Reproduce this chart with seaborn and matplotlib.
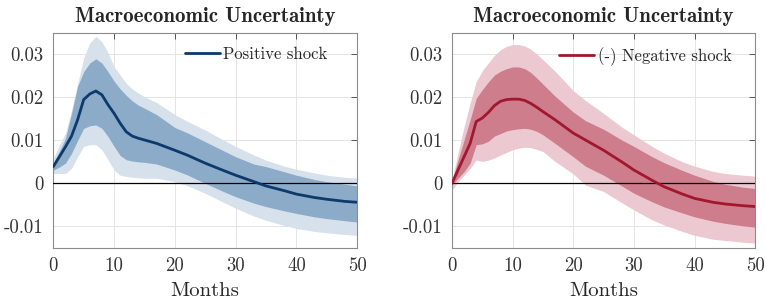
import matplotlib
matplotlib.use("Agg")
import matplotlib.pyplot as plt
import seaborn as sns
import pandas as pd

# horizon grid (months) on which values were read
months = [0, 1, 2, 3, 4, 5, 6, 7, 8, 9, 10, 11, 12, 13, 14, 15, 17, 20, 22, 25,
          28, 30, 33, 35, 38, 40, 43, 45, 48, 50]

# positive shock: median response and 68% / 90% bands
pos_irf = [0.0039, 0.0062, 0.0085, 0.0110, 0.0148, 0.0195, 0.0208, 0.0215, 0.0206, 0.0183,
           0.0163, 0.0140, 0.0120, 0.0110, 0.0105, 0.0101, 0.0093, 0.0077, 0.0066, 0.0047,
           0.0030, 0.0019, 0.0004, -0.0006, -0.0017, -0.0025, -0.0033, -0.0037, -0.0042, -0.0044]
pos_hi68 = [0.0047, 0.0075, 0.0105, 0.0163, 0.0226, 0.0260, 0.0280, 0.0290, 0.0280, 0.0260,
            0.0238, 0.0220, 0.0205, 0.0192, 0.0182, 0.0175, 0.0160, 0.0130, 0.0118, 0.0097,
            0.0076, 0.0062, 0.0045, 0.0039, 0.0027, 0.0019, 0.0009, 0.0004, -0.0002, -0.0006]
pos_lo68 = [0.0031, 0.0038, 0.0047, 0.0070, 0.0100, 0.0128, 0.0134, 0.0136, 0.0128, 0.0109,
            0.0086, 0.0065, 0.0055, 0.0052, 0.0050, 0.0049, 0.0045, 0.0031, 0.0020, 0.0000,
            -0.0019, -0.0031, -0.0046, -0.0054, -0.0064, -0.0070, -0.0078, -0.0082, -0.0087, -0.0090]
pos_hi90 = [0.0058, 0.0090, 0.0117, 0.0170, 0.0233, 0.0292, 0.0327, 0.0342, 0.0330, 0.0304,
            0.0272, 0.0252, 0.0233, 0.0220, 0.0210, 0.0202, 0.0188, 0.0160, 0.0145, 0.0124,
            0.0101, 0.0086, 0.0066, 0.0054, 0.0040, 0.0033, 0.0024, 0.0019, 0.0014, 0.0012]
pos_lo90 = [0.0023, 0.0023, 0.0023, 0.0035, 0.0062, 0.0086, 0.0090, 0.0090, 0.0078, 0.0055,
            0.0031, 0.0019, 0.0016, 0.0014, 0.0013, 0.0012, 0.0012, 0.0004, -0.0005, -0.0023,
            -0.0044, -0.0058, -0.0076, -0.0086, -0.0098, -0.0105, -0.0112, -0.0115, -0.0119, -0.0121]

# negative shock (sign flipped)
neg_irf = [0.0000, 0.0031, 0.0062, 0.0093, 0.0144, 0.0152, 0.0165, 0.0181, 0.0191, 0.0195,
           0.0196, 0.0196, 0.0193, 0.0186, 0.0177, 0.0167, 0.0148, 0.0117, 0.0101, 0.0077,
           0.0050, 0.0031, 0.0007, -0.0008, -0.0025, -0.0035, -0.0044, -0.0048, -0.0052, -0.0054]
neg_hi68 = [0.0004, 0.0054, 0.0101, 0.0148, 0.0198, 0.0218, 0.0236, 0.0252, 0.0261, 0.0267,
            0.0271, 0.0271, 0.0267, 0.0258, 0.0245, 0.0231, 0.0203, 0.0166, 0.0146, 0.0126,
            0.0101, 0.0086, 0.0062, 0.0048, 0.0030, 0.0019, 0.0005, -0.0002, -0.0009, -0.0012]
neg_lo68 = [-0.0004, 0.0012, 0.0027, 0.0047, 0.0090, 0.0092, 0.0098, 0.0110, 0.0116, 0.0122,
            0.0125, 0.0127, 0.0128, 0.0126, 0.0121, 0.0113, 0.0093, 0.0062, 0.0040, 0.0019,
            -0.0006, -0.0023, -0.0043, -0.0055, -0.0069, -0.0078, -0.0088, -0.0093, -0.0099, -0.0102]
neg_hi90 = [0.0008, 0.0070, 0.0132, 0.0187, 0.0237, 0.0262, 0.0280, 0.0298, 0.0311, 0.0319,
            0.0323, 0.0323, 0.0320, 0.0312, 0.0301, 0.0288, 0.0261, 0.0216, 0.0193, 0.0163,
            0.0131, 0.0113, 0.0086, 0.0070, 0.0050, 0.0040, 0.0028, 0.0023, 0.0019, 0.0017]
neg_lo90 = [-0.0016, 0.0004, 0.0019, 0.0035, 0.0054, 0.0051, 0.0054, 0.0059, 0.0066, 0.0072,
            0.0078, 0.0082, 0.0084, 0.0083, 0.0079, 0.0074, 0.0051, 0.0022, -0.0004, -0.0019,
            -0.0045, -0.0062, -0.0085, -0.0097, -0.0112, -0.0121, -0.0130, -0.0133, -0.0137, -0.0139]

title = "Macroeconomic Uncertainty"
xticks = [0, 10, 20, 30, 40, 50]
yticks = [-0.01, 0, 0.01, 0.02, 0.03]
ytick_labels = ["-0.01", "0", "0.01", "0.02", "0.03"]

sns.set_style("white")
plt.rcParams["font.family"] = ["cmr10", "DejaVu Serif"]
plt.rcParams["mathtext.fontset"] = "cm"
plt.rcParams["axes.formatter.use_mathtext"] = True


def draw_panel(ax, df, line_col, dark_col, light_col, label, legend_x):
    ax.fill_between(df["month"], df["lo90"], df["hi90"], color=light_col, lw=0)
    ax.fill_between(df["month"], df["lo68"], df["hi68"], color=dark_col, lw=0)
    ax.axhline(0, color="black", lw=0.9, zorder=3)
    sns.lineplot(data=df, x="month", y="irf", ax=ax, color=line_col, lw=2.0,
                 label=label, zorder=4)
    ax.set_xlim(0, 50)
    ax.set_ylim(-0.015, 0.035)
    ax.set_xticks(xticks)
    ax.set_xticklabels([str(t) for t in xticks])
    ax.set_yticks(yticks)
    ax.set_yticklabels(ytick_labels)
    ax.grid(True, color="#e4e4e4", lw=0.7)
    ax.set_axisbelow(True)
    for s in ax.spines.values():
        s.set_visible(True)
        s.set_color("#8c8c8c")
        s.set_linewidth(0.8)
    ax.tick_params(direction="in", length=4, width=0.7, color="#555555",
                   top=True, right=True, labelsize=13.5, labelcolor="#333333", pad=7)
    ax.set_title(title, fontfamily="cmb10", fontsize=15, pad=8)
    ax.set_xlabel("Months", fontsize=15, labelpad=5)
    ax.set_ylabel("")
    ax.legend(loc="upper right", bbox_to_anchor=(legend_x, 0.99), frameon=False,
              fontsize=12, handlelength=2.1, handletextpad=0.2, borderaxespad=0.3)


pos_df = pd.DataFrame({"month": months, "irf": pos_irf, "hi68": pos_hi68, "lo68": pos_lo68,
                       "hi90": pos_hi90, "lo90": pos_lo90})
neg_df = pd.DataFrame({"month": months, "irf": neg_irf, "hi68": neg_hi68, "lo68": neg_lo68,
                       "hi90": neg_hi90, "lo90": neg_lo90})

fig = plt.figure(figsize=(7.66, 3.0), dpi=100)
ax1 = fig.add_axes([0.0696, 0.174, 0.3966, 0.716])
ax2 = fig.add_axes([0.590, 0.174, 0.396, 0.716])

draw_panel(ax1, pos_df, "#0d3a6b", "#8babc9", "#d6e1ec", "Positive shock", 0.941)
draw_panel(ax2, neg_df, "#a3172e", "#cd7d8c", "#ecc9d1", "(-) Negative shock", 0.96)

fig.savefig("out.png", dpi=100)
